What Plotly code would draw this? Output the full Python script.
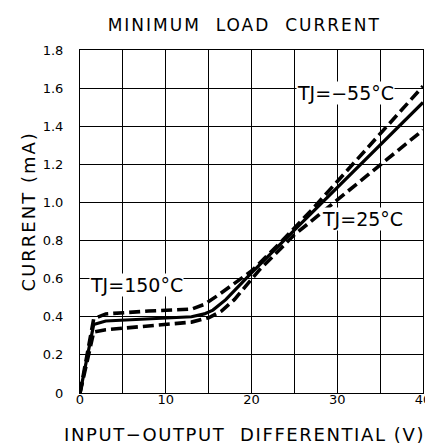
import plotly.graph_objects as go

# ---- data ----
x_upper = [0, 1.6, 3, 8, 13, 14.5, 16, 17.5, 19, 20, 23.6, 27, 30, 35, 40]
y_upper = [0, 0.39, 0.415, 0.43, 0.44, 0.465, 0.51, 0.56, 0.61, 0.64, 0.80, 0.96, 1.11, 1.36, 1.61]

x_solid = [0, 1.6, 3, 8, 13, 14.5, 15.5, 17, 18.5, 20, 25, 30, 35, 40]
y_solid = [0, 0.36, 0.378, 0.39, 0.40, 0.415, 0.435, 0.49, 0.56, 0.63, 0.855, 1.08, 1.30, 1.525]

x_lower = [0, 1.6, 3, 8, 13, 15, 16.5, 18, 19.5, 21, 25, 30, 35, 40]
y_lower = [0, 0.32, 0.332, 0.352, 0.372, 0.395, 0.43, 0.49, 0.57, 0.65, 0.83, 1.015, 1.195, 1.38]

x_tickvals = [0, 5, 10, 15, 20, 25, 30, 35, 40]
x_ticktext = ["0", "", "10", "", "20", "", "30", "", "40"]
y_tickvals = [0, 0.2, 0.4, 0.6, 0.8, 1.0, 1.2, 1.4, 1.6, 1.8]
y_ticktext = ["0", "0.2", "0.4", "0.6", "0.8", "1.0", "1.2", "1.4", "1.6", "1.8"]

labels = ["TJ=\u221255\u00b0C", "TJ=25\u00b0C", "TJ=150\u00b0C"]
label_x = [31.0, 33.0, 6.6]
label_y = [1.575, 0.915, 0.565]

title_text = "MINIMUM\u00a0\u00a0LOAD\u00a0\u00a0CURRENT"
x_title = "INPUT\u2212OUTPUT\u00a0\u00a0DIFFERENTIAL\u00a0(V)"
y_title = "CURRENT\u00a0(mA)"

FONT = "DejaVu Sans"

fig = go.Figure()
fig.add_trace(go.Scatter(x=x_upper, y=y_upper, mode="lines",
                         line=dict(color="black", width=3.6, dash="11px,5px"),
                         showlegend=False, hoverinfo="skip"))
fig.add_trace(go.Scatter(x=x_solid, y=y_solid, mode="lines",
                         line=dict(color="black", width=3.2),
                         showlegend=False, hoverinfo="skip"))
fig.add_trace(go.Scatter(x=x_lower, y=y_lower, mode="lines",
                         line=dict(color="black", width=3.6, dash="11px,5px"),
                         showlegend=False, hoverinfo="skip"))

annotations = []
for t, ax_, ay_ in zip(labels, label_x, label_y):
    annotations.append(dict(x=ax_, y=ay_, xref="x", yref="y", text=t, showarrow=False,
                            font=dict(family=FONT, size=19, color="black"),
                            bgcolor="white", borderpad=0, xanchor="center", yanchor="middle"))
annotations.append(dict(x=(240 - 72) / 351, y=(385 - 427) / 343, xref="paper", yref="paper",
                        text=x_title, showarrow=False,
                        font=dict(family=FONT, size=18, color="black"),
                        xanchor="center", yanchor="middle"))
annotations.append(dict(x=-0.151, y=0.53, xref="paper", yref="paper", text=y_title,
                        showarrow=False, textangle=-90,
                        font=dict(family=FONT, size=18, color="black"),
                        xanchor="center", yanchor="middle"))

fig.update_layout(
    width=433, height=444,
    margin=dict(l=72, r=10, t=42, b=59),
    paper_bgcolor="white", plot_bgcolor="white",
    title=dict(text=title_text, x=236 / 433, xref="container", xanchor="center",
               y=1 - 17 / 444, yref="container", yanchor="middle",
               font=dict(family=FONT, size=17, color="black")),
    annotations=annotations,
    showlegend=False,
)
fig.update_xaxes(range=[0, 40], tickvals=x_tickvals, ticktext=x_ticktext,
                 showgrid=True, gridcolor="black", gridwidth=1,
                 showline=True, linecolor="black", linewidth=1, mirror=True,
                 zeroline=False, ticks="", ticklabelstandoff=-6,
                 tickfont=dict(family=FONT, size=13, color="black"))
fig.update_yaxes(range=[0, 1.8], tickvals=y_tickvals, ticktext=y_ticktext,
                 showgrid=True, gridcolor="black", gridwidth=1,
                 showline=True, linecolor="black", linewidth=1, mirror=True,
                 zeroline=False, ticks="", ticklabelstandoff=13,
                 tickfont=dict(family=FONT, size=13, color="black"))

post = """
var gd = document.getElementById('{plot_id}');
var rules = [['MINIMUM', '2px'], ['INPUT', '1.6px'], ['mA', '2px']];
gd.querySelectorAll('text').forEach(function(t){
  var s = t.textContent;
  rules.forEach(function(r){
    if (s.indexOf(r[0]) >= 0) {
      var b0 = t.getBBox();
      t.style.letterSpacing = r[1];
      var b1 = t.getBBox();
      var dx = (b1.x + b1.width / 2) - (b0.x + b0.width / 2);
      var x0 = parseFloat(t.getAttribute('x') || '0');
      t.setAttribute('x', x0 - dx);
    }
  });
});
"""
fig.write_html("out.html", post_script=post)
